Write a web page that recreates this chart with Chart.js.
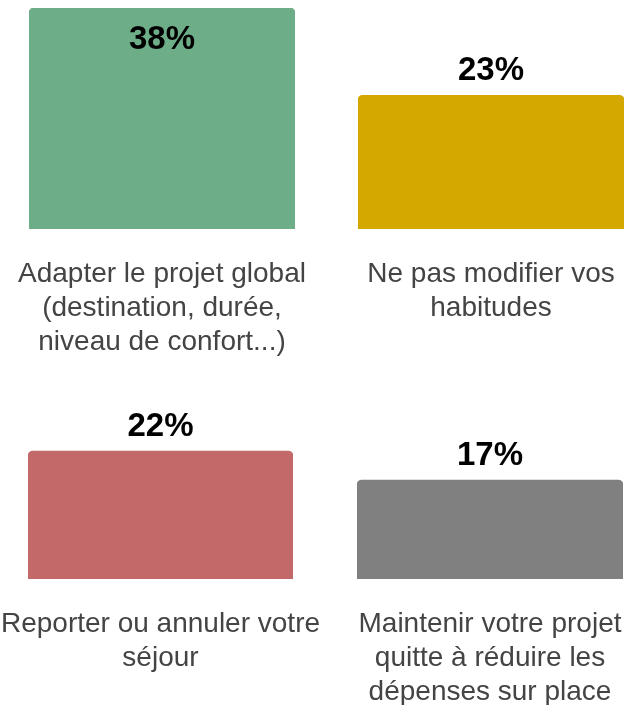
<!DOCTYPE html>
<html>
<head>
<meta charset="utf-8">
<script src="https://cdn.jsdelivr.net/npm/chart.js@4"></script>
<style>
  html, body { margin: 0; padding: 0; background: #fff; }
  #wrap { position: relative; width: 633px; height: 705px; }
  .cell { position: absolute; left: 0; top: 0; width: 633px; height: 705px; }
</style>
</head>
<body>
<div id="wrap">
  <div class="cell"><canvas id="c0"></canvas></div>
  <div class="cell"><canvas id="c1"></canvas></div>
  <div class="cell"><canvas id="c2"></canvas></div>
  <div class="cell"><canvas id="c3"></canvas></div>
</div>
<script>
// data
const categories = [
    ['Adapter le projet global', '(destination, durée,', 'niveau de confort...)'],
    ['Ne pas modifier vos', 'habitudes'],
    ['Reporter ou annuler votre', 'séjour'],
    ['Maintenir votre projet', 'quitte à réduire les', 'dépenses sur place']
];
const values = [38, 23, 22, 17];
const colors = ['#6DAE89', '#D5A800', '#C4696A', '#808080'];
const scaleMax = 38;

// where each little chart sits in the page (chart area padding)
const boxes = [
    { left: 29, right: 338, top: 8, bottom: 476 },
    { left: 358, right: 9, top: 8, bottom: 476 },
    { left: 28, right: 340, top: 358, bottom: 126 },
    { left: 357, right: 10, top: 358, bottom: 126 }
];

const FONT = '"Liberation Sans", Arial, Helvetica, sans-serif';

// value on top of the bar + category text under it
const labelPlugin = {
    id: 'barLabels',
    afterDatasetsDraw(chart) {
        const ctx = chart.ctx;
        const bar = chart.getDatasetMeta(0).data[0];
        const area = chart.chartArea;
        const v = chart.data.datasets[0].data[0];
        ctx.save();
        ctx.textAlign = 'center';
        ctx.textBaseline = 'middle';

        ctx.font = 'bold 33px ' + FONT;
        ctx.fillStyle = '#000';
        let y = bar.y - 24;
        if (y < 20) y = bar.y + 32; // no room above -> inside the bar
        ctx.fillText(v + '%', bar.x, y);

        ctx.font = '28px ' + FONT;
        ctx.fillStyle = '#444';
        const lines = chart.data.labels[0];
        lines.forEach((line, i) => {
            ctx.fillText(line, bar.x, area.bottom + 45 + i * 34);
        });
        ctx.restore();
    }
};

values.forEach((val, i) => {
    new Chart(document.getElementById('c' + i), {
        type: 'bar',
        data: {
            labels: [categories[i]],
            datasets: [{
                data: [val],
                backgroundColor: colors[i],
                borderRadius: 5,
                barPercentage: 1,
                categoryPercentage: 1
            }]
        },
        options: {
            responsive: true,
            maintainAspectRatio: false,
            animation: false,
            layout: { padding: boxes[i] },
            plugins: {
                legend: { display: false },
                tooltip: { enabled: false }
            },
            scales: {
                x: { display: false },
                y: { display: false, min: 0, max: scaleMax }
            }
        },
        plugins: [labelPlugin]
    });
});
</script>
</body>
</html>
